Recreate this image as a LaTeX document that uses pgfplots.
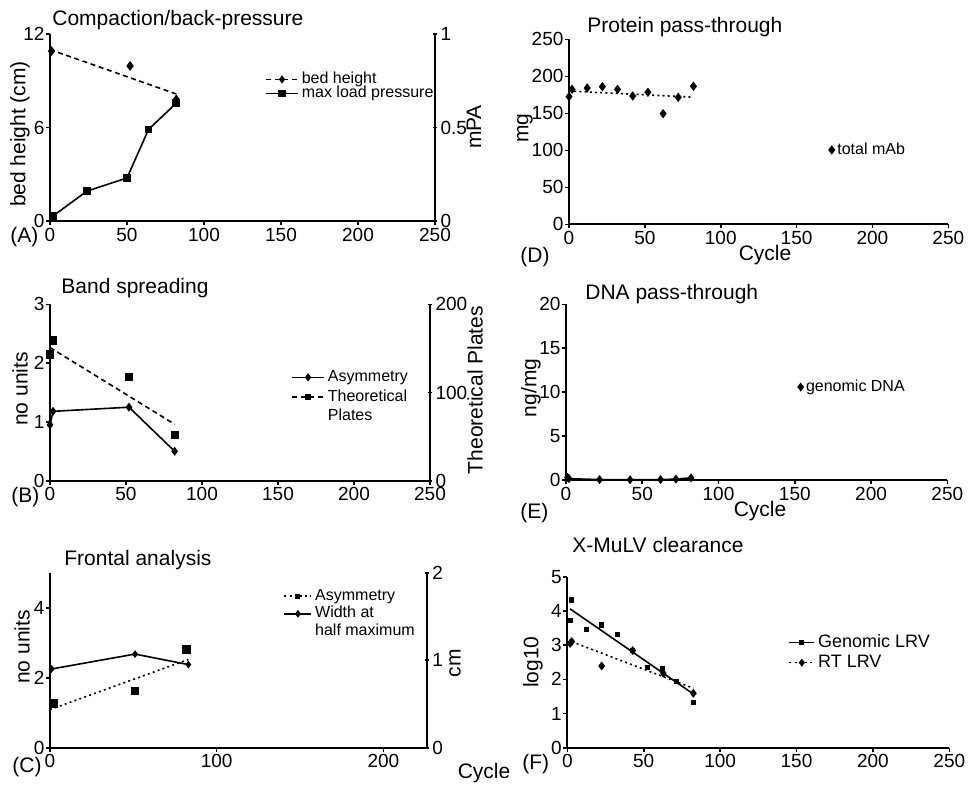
\documentclass[border=0pt]{standalone}
\usepackage{fontspec}
\setmainfont{Liberation Sans}
\usepackage{pgfplots}
\pgfplotsset{compat=1.18}
\newcommand\ttl{\fontsize{10.5}{12}\selectfont}
\newcommand\tck{\fontsize{9.5}{11}\selectfont}
\newcommand\lgd{\fontsize{8}{9}\selectfont}
\pgfplotsset{
  base/.style={scale only axis, clip=false, xmin=0, xmax=250, ymin=0,
    axis line style={line width=0.9pt,-}, major tick length=2pt,
    every tick/.style={black, line width=0.8pt},
    tick label style={font=\tck}, /pgf/number format/assume math mode=true,
    yticklabel style={inner xsep=0.6pt}, xticklabel style={inner ysep=1.2pt},
    every axis plot/.append style={black, line width=0.8pt, mark options={solid}},
    legend style={draw=none, fill=none, font=\lgd, inner sep=0pt, row sep=0pt,
      column sep=1.5pt, nodes={inner sep=0pt, text height=5.8pt, text depth=1.6pt}},
    legend cell align=left},
  limg/.style={legend image code/.code={\draw[mark repeat=2,mark phase=2,##1]
    plot coordinates {(0pt,0pt)(#1/2,0pt)(#1,0pt)};}},
  markonly legend/.style={legend image code/.code={\draw[##1] plot coordinates {(0pt,0pt)};}},
  lft/.style={base, axis x line*=bottom, axis y line*=left, tick align=outside,
    xtick={0,50,...,250}},
  rgt/.style={base, axis x line=none, axis y line*=right, tick align=center,
    yticklabel style={inner xsep=1.6pt}},
  dsh/.style={dash pattern=on 2.5pt off 1.8pt},
  dtt/.style={dash pattern=on 1pt off 1.6pt},
}
\begin{document}
\begin{tikzpicture}
\useasboundingbox (0,0) rectangle (486pt,394.5pt);

% (A) compaction / back-pressure
\begin{axis}[lft, at={(25pt,284pt)}, anchor=south west, width=192.5pt, height=93.5pt,
  ymax=12, ytick={0,6,12}]
\addplot[only marks, mark=diamond*, mark size=1.8pt] coordinates {(1,10.9) (52,9.95) (82,7.8)};
\addplot[no marks, dsh] coordinates {(0,11.0) (82,8.15)};
\end{axis}
\begin{axis}[rgt, at={(25pt,284pt)}, anchor=south west, width=192.5pt, height=93.5pt,
  ymax=1, ytick={0,0.5,1}, limg=16pt,
  legend style={at={(0.558,0.797)}, anchor=north west,
    nodes={text height=5.6pt, text depth=1.4pt}}]
\addlegendimage{black, line width=0.8pt, dsh, mark=diamond*, mark size=1.4pt, mark options={solid}}
\addlegendentry{bed height}
\addplot[mark=square*, mark size=1.5pt] coordinates {(2,0.027) (24,0.16) (50,0.23) (64,0.49) (82,0.63)};
\addlegendentry{max load pressure}
\end{axis}

% (B) band spreading
\begin{axis}[lft, at={(25pt,154.15pt)}, anchor=south west, width=190pt, height=88.2pt,
  ymax=3, ytick={0,1,2,3}]
\addplot[mark=diamond*, mark size=1.6pt] coordinates {(0,0.95) (2,1.18) (52,1.25) (82,0.5)};
\end{axis}
\begin{axis}[rgt, at={(25pt,154.15pt)}, anchor=south west, width=190pt, height=88.2pt,
  ymax=200, ytick={0,100,200}, limg=16pt,
  legend style={at={(0.634,0.63)}, anchor=north west, row sep=2.35pt}]
\addplot[only marks, mark=square*, mark size=1.65pt, forget plot] coordinates {(2,159) (0,143) (52,118) (82,52)};
\addplot[no marks, dsh, forget plot] coordinates {(0,151) (82,64)};
\addlegendimage{black, line width=0.8pt, mark=diamond*, mark size=1.4pt}
\addlegendentry{Asymmetry}
\addlegendimage{black, line width=0.8pt, dsh, mark=square*, mark size=1.2pt, mark options={solid}}
\addlegendentry{Theoretical}
\addlegendimage{empty legend}
\addlegendentry{Plates}
\end{axis}

% (C) frontal analysis
\begin{axis}[lft, at={(25pt,20.65pt)}, anchor=south west, width=188.35pt, height=87.5pt,
  xmax=226, xtick={0,100,200}, ymax=5, ytick={0,2,4}]
\addplot[only marks, mark=square*, mark size=1.8pt] coordinates {(2,1.26) (51,1.62) (82,2.8)};
\addplot[no marks, dtt] coordinates {(0,1.09) (83,2.52)};
\end{axis}
\begin{axis}[rgt, at={(25pt,20.65pt)}, anchor=south west, width=188.35pt, height=87.5pt,
  xmax=226, ymax=2, ytick={0,1,2}, limg=13.5pt,
  legend style={at={(0.619,0.91)}, anchor=north west, row sep=1.35pt}]
\addlegendimage{black, line width=0.8pt, dtt, mark=square*, mark size=0.9pt, mark options={solid}}
\addlegendentry{Asymmetry}
\addplot[mark=diamond*, mark size=1.3pt] coordinates {(1,0.9) (51,1.07) (83,0.95)};
\addlegendentry{Width at}
\addlegendimage{empty legend}
\addlegendentry{half maximum}
\end{axis}

% (D) protein pass-through
\begin{axis}[lft, at={(284.5pt,282.35pt)}, anchor=south west, width=189.65pt, height=92.5pt,
  ymax=250, ytick={0,50,...,250}, legend style={at={(0.685,0.402)}, anchor=west}]
\addplot[only marks, mark=diamond*, mark size=1.7pt, markonly legend] coordinates {
  (0,172.5) (2,182.4) (12,184.2) (22,186) (32,182.4) (42,173.4) (52,178.4) (62,149.5) (72,171.6) (82,186.5)};
\addlegendentry{total mAb}
\addplot[no marks, dtt, forget plot] coordinates {(0,180) (80,172)};
\end{axis}

% (E) DNA pass-through
\begin{axis}[lft, at={(283pt,154.5pt)}, anchor=south west, width=190.65pt, height=87.85pt,
  ymax=20, ytick={0,5,...,20}, legend style={at={(0.608,0.529)}, anchor=west}]
\addplot[mark=diamond*, mark size=1.6pt, markonly legend] coordinates {
  (1,0.3) (2,0.15) (22,0.05) (42,0.03) (62,0.05) (72,0.1) (82,0.25)};
\addlegendentry{genomic DNA}
\end{axis}

% (F) X-MuLV clearance
\begin{axis}[lft, at={(283.65pt,20.65pt)}, anchor=south west, width=191pt, height=85.5pt,
  ymax=5, ytick={0,1,...,5}, limg=12.5pt,
  legend style={at={(0.578,0.665)}, anchor=north west, font=\fontsize{9}{10}\selectfont,
    row sep=1.7pt, nodes={text height=6.5pt, text depth=1.8pt}}]
\addplot[only marks, mark=square*, mark size=0.9pt, forget plot] coordinates {
  (2.9,4.32) (1.8,3.73) (12.7,3.46) (22.5,3.59) (32.7,3.30) (42.8,2.84) (52.4,2.35) (62.4,2.32) (71.6,1.93) (82.5,1.32)};
\addplot[no marks, forget plot] coordinates {(1.8,4.06) (82.5,1.57)};
\addplot[only marks, mark=diamond*, mark size=1.6pt, forget plot] coordinates {
  (1.8,3.05) (2.9,3.10) (22.5,2.39) (42.8,2.84) (62.8,2.18) (82.5,1.59)};
\addplot[no marks, dtt, forget plot] coordinates {(2.9,3.1) (82.5,1.74)};
\addlegendimage{black, line width=0.8pt, mark=square*, mark size=0.9pt}
\addlegendentry{Genomic LRV}
\addlegendimage{black, line width=0.8pt, dtt, mark=diamond*, mark size=1.4pt, mark options={solid}}
\addlegendentry{RT LRV}
\end{axis}

% texts, placed in pixel units of the reference (y downwards)
\begin{scope}[yshift=394.5pt, x=0.5pt, y=-0.5pt, font=\ttl]
\node[anchor=base west, inner sep=0pt] at (52,26) {Compaction/back-pressure};
\node[anchor=base west, inner sep=0pt] at (61,293) {Band spreading};
\node[anchor=base west, inner sep=0pt] at (64,565) {Frontal analysis};
\node[anchor=base west, inner sep=0pt] at (587,33) {Protein pass-through};
\node[anchor=base west, inner sep=0pt] at (585,299) {DNA pass-through};
\node[anchor=base west, inner sep=0pt] at (572,552) {X-MuLV clearance};
\node[anchor=base west, inner sep=0pt] at (10,242) {(A)};
\node[anchor=base west, inner sep=0pt] at (11,502) {(B)};
\node[anchor=base west, inner sep=0pt] at (12,772) {(C)};
\node[anchor=base west, inner sep=0pt] at (520,262) {(D)};
\node[anchor=base west, inner sep=0pt] at (520,518) {(E)};
\node[anchor=base west, inner sep=0pt] at (522,769) {(F)};
\node[anchor=base, inner sep=0pt] at (765,260) {Cycle};
\node[anchor=base, inner sep=0pt] at (760,516) {Cycle};
\node[anchor=base, inner sep=0pt] at (484,778) {Cycle};
\node[rotate=90] at (20,134) {bed height (cm)};
\node[rotate=90] at (474,127) {mPA};
\node[rotate=90] at (20,389) {no units};
\node[rotate=90] at (475,390) {Theoretical Plates};
\node[rotate=90] at (22,647) {no units};
\node[rotate=90] at (455,663) {cm};
\node[rotate=90] at (525,128) {mg};
\node[rotate=90] at (531,388) {ng/mg};
\node[rotate=90] at (533,662) {log10};
\end{scope}
\end{tikzpicture}
\end{document}
